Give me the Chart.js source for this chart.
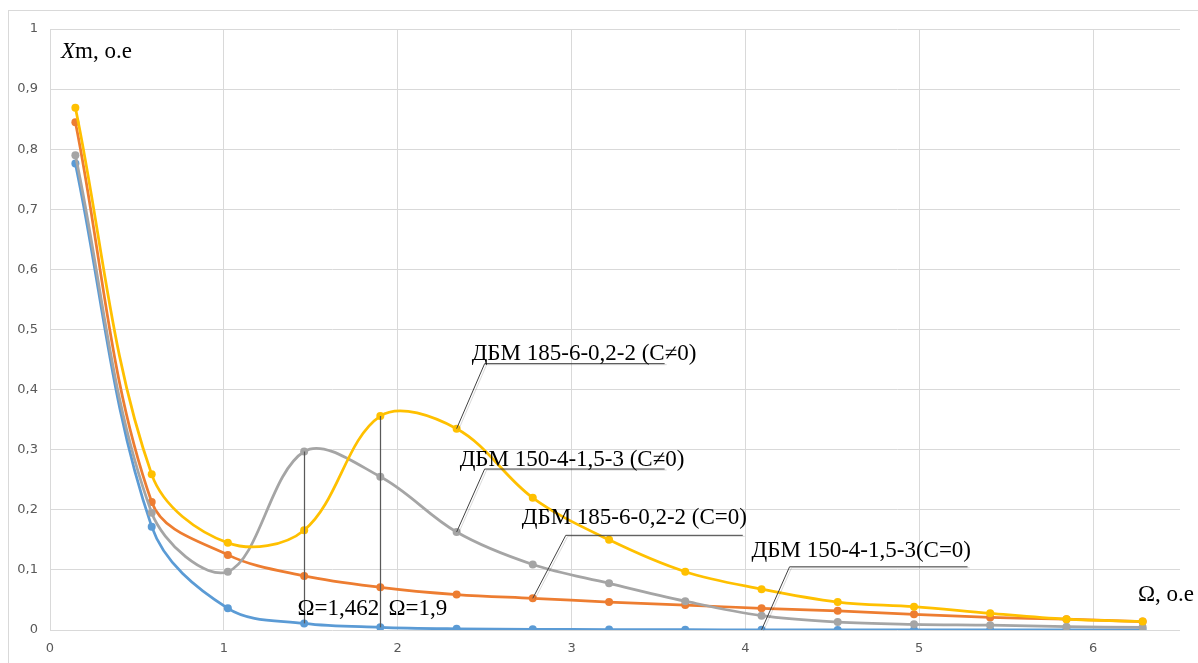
<!DOCTYPE html>
<html>
<head>
<meta charset="utf-8">
<style>
  html, body { margin: 0; padding: 0; background: #fff; }
  #wrap { position: relative; width: 1198px; height: 663px; }
</style>
<script src="https://cdn.jsdelivr.net/npm/chart.js@4.4.1/dist/chart.umd.min.js"></script>
</head>
<body>
<div id="wrap"><canvas id="xm"></canvas></div>
<script>
// Ω, o.e
const omega = [0.146, 0.585, 1.023, 1.462, 1.9, 2.339, 2.777, 3.216, 3.654, 4.093, 4.531, 4.97, 5.408, 5.847, 6.285];

// Xm, o.e
const dbm150C0  = [0.776, 0.172, 0.036, 0.011, 0.0045, 0.002, 0.0012, 0.0008, 0.0005, 0.0003, 0.0002, 0.0002, 0.0001, 0.0001, 0.0001];
const dbm185C0  = [0.845, 0.213, 0.125, 0.09, 0.071, 0.059, 0.0527, 0.0465, 0.0415, 0.036, 0.032, 0.026, 0.021, 0.018, 0.014];
const dbm150Cn0 = [0.79, 0.195, 0.097, 0.297, 0.255, 0.163, 0.109, 0.0776, 0.048, 0.0238, 0.0133, 0.0095, 0.008, 0.0055, 0.0045];
const dbm185Cn0 = [0.869, 0.259, 0.145, 0.166, 0.356, 0.335, 0.22, 0.15, 0.097, 0.068, 0.0465, 0.0387, 0.0277, 0.018, 0.014];

const xTicks = [0, 1, 2, 3, 4, 5, 6];

const Utils = {
    points: (xs, ys) => xs.map((x, i) => ({ x: x, y: ys[i] })),
    comma: (v) => String(Math.round(v * 10) / 10).replace('.', ','),
};

(function () {
    const serif = '"Liberation Serif", "Times New Roman", serif';

    // callouts: series, point index, elbow offset from the point, text offset from the elbow
    const callouts = [
        { text: 'ДБМ 185-6-0,2-2 (С≠0)', ys: dbm185Cn0, i: 5, dx: 28, dy: -65, len: 180, tx: -13, ty: -4 },
        { text: 'ДБМ 150-4-1,5-3 (С≠0)', ys: dbm150Cn0, i: 5, dx: 28, dy: -63, len: 180, tx: -25, ty: -3 },
        { text: 'ДБМ 185-6-0,2-2 (С=0)', ys: dbm185C0, i: 6, dx: 33, dy: -63, len: 177, tx: -44, ty: -11 },
        { text: 'ДБМ 150-4-1,5-3(С=0)', ys: dbm150C0, i: 9, dx: 28, dy: -63, len: 178, tx: -38, ty: -10 },
    ];

    // vertical markers: index into omega, top series, label
    const markers = [
        { i: 3, top: dbm150Cn0, label: 'Ω=1,462', tx: -7 },
        { i: 4, top: dbm185Cn0, label: 'Ω=1,9', tx: 8 },
    ];

    const frame = {
        id: 'frame',
        beforeDraw(chart) {
            const c = chart.ctx;
            c.save();
            c.strokeStyle = '#d9d9d9';
            c.lineWidth = 1;
            c.strokeRect(8.5, 10.5, chart.width, chart.height);
            c.restore();
        }
    };

    const notes = {
        id: 'notes',
        afterDatasetsDraw(chart) {
            const c = chart.ctx;
            const xs = chart.scales.x, ys = chart.scales.y;
            c.save();

            markers.forEach(m => {
                const px = Math.round(xs.getPixelForValue(omega[m.i])) + 0.5;
                c.strokeStyle = '#595959';
                c.lineWidth = 1.25;
                c.beginPath();
                c.moveTo(px, ys.getPixelForValue(m.top[m.i]));
                c.lineTo(px, ys.getPixelForValue(dbm150C0[m.i]));
                c.stroke();
                c.fillStyle = '#000';
                c.font = '23px ' + serif;
                c.textBaseline = 'alphabetic';
                c.fillText(m.label, px + m.tx, ys.getPixelForValue(0) - 15);
            });

            callouts.forEach(o => {
                const px = xs.getPixelForValue(omega[o.i]);
                const py = ys.getPixelForValue(o.ys[o.i]);
                const ex = px + o.dx, ey = py + o.dy;
                c.lineWidth = 1;
                // shadow line
                c.strokeStyle = 'rgba(0,0,0,0.15)';
                c.beginPath();
                c.moveTo(px + 2, py + 1);
                c.lineTo(ex + 2, ey + 1);
                c.lineTo(ex + o.len + 2, ey + 1);
                c.stroke();
                c.strokeStyle = '#404040';
                c.beginPath();
                c.moveTo(px, py);
                c.lineTo(ex, ey);
                c.lineTo(ex + o.len, ey);
                c.stroke();
                c.fillStyle = '#000';
                c.font = '23px ' + serif;
                c.fillText(o.text, ex + o.tx, ey + o.ty);
            });

            // axis names
            c.font = 'italic 23px ' + serif;
            c.fillText('X', 61, 58);
            const wx = c.measureText('X').width;
            c.font = '23px ' + serif;
            c.fillText('m, o.e', 61 + wx, 58);
            c.fillText('Ω, o.e', 1138, 601);
            c.restore();
        }
    };

    const line = (label, ys, color, order) => ({
        label: label,
        data: Utils.points(omega, ys),
        borderColor: color,
        backgroundColor: color,
        borderWidth: 2.75,
        pointRadius: 4,
        pointBorderWidth: 0,
        tension: 0.35,
        order: order,
    });

    new Chart(document.getElementById('xm'), {
        type: 'line',
        data: {
            datasets: [
                line('ДБМ 150-4-1,5-3(С=0)', dbm150C0, '#5B9BD5', 3),
                line('ДБМ 185-6-0,2-2 (С=0)', dbm185C0, '#ED7D31', 2),
                line('ДБМ 150-4-1,5-3 (С≠0)', dbm150Cn0, '#A5A5A5', 1),
                line('ДБМ 185-6-0,2-2 (С≠0)', dbm185Cn0, '#FFC000', 0),
            ]
        },
        options: {
            responsive: true,
            maintainAspectRatio: false,
            animation: false,
            layout: { padding: { left: 8, top: 29, right: 18, bottom: 0 } },
            scales: {
                x: {
                    type: 'linear',
                    min: 0,
                    max: 6.5,
                    afterBuildTicks: (s) => { s.ticks = xTicks.map(v => ({ value: v })); },
                    afterFit: (s) => { s.height = 33; },
                    grid: { color: '#d9d9d9', drawTicks: false, lineWidth: 1 },
                    border: { display: false },
                    ticks: { padding: 11, color: '#595959', font: { family: '"DejaVu Sans"', size: 13 } },
                },
                y: {
                    min: 0,
                    max: 1,
                    ticks: {
                        stepSize: 0.1,
                        padding: 12,
                        color: '#595959',
                        font: { family: '"DejaVu Sans"', size: 13 },
                        callback: (v) => Utils.comma(v),
                    },
                    afterFit: (s) => { s.width = 42; },
                    grid: { color: '#d9d9d9', drawTicks: false, lineWidth: 1 },
                    border: { display: false },
                }
            },
            plugins: {
                legend: { display: false },
                tooltip: { enabled: false },
            },
        },
        plugins: [frame, notes]
    });
})();
</script>
</body>
</html>
